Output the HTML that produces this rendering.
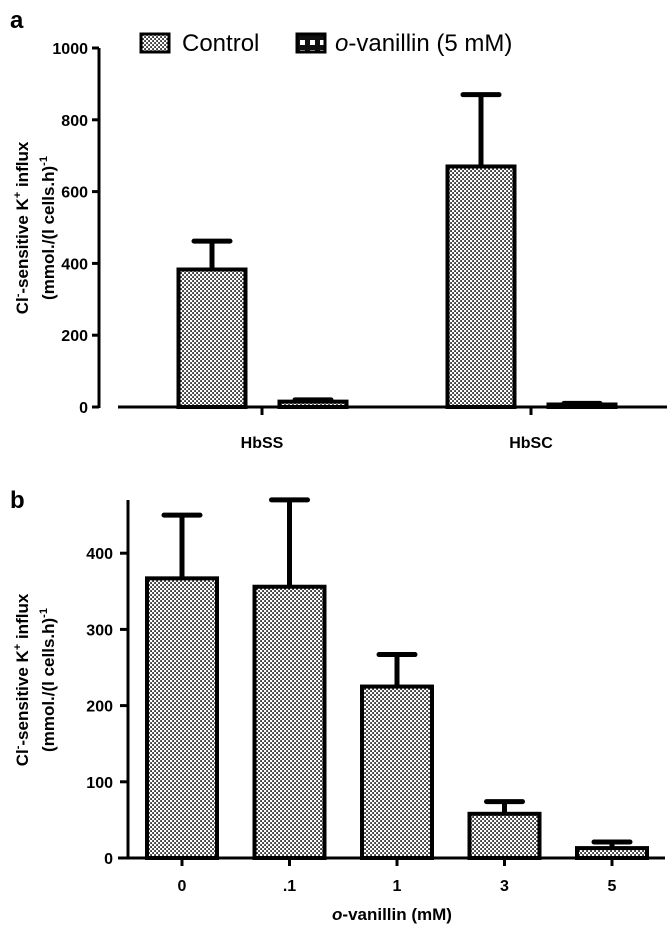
<!DOCTYPE html>
<html><head><meta charset="utf-8"><style>
html,body{margin:0;padding:0;background:#fff}
svg{display:block;font-family:"Liberation Sans",Arial,sans-serif}
</style></head><body>
<svg width="669" height="931" viewBox="0 0 669 931" xmlns="http://www.w3.org/2000/svg">
<defs>
<pattern id="pctl" width="4" height="4" patternUnits="userSpaceOnUse">
<rect width="4" height="4" fill="#fff"/><rect x="0.2" y="0.2" width="1.7" height="1.7" fill="#111"/><rect x="2.2" y="2.2" width="1.7" height="1.7" fill="#111"/>
</pattern>
<pattern id="pvan" width="10" height="10" patternUnits="userSpaceOnUse">
<rect width="10" height="10" fill="#111"/><rect x="0" y="0" width="5" height="5" fill="#fff"/><rect x="5" y="5" width="5" height="5" fill="#111"/>
</pattern>
</defs>
<g id="panelA"></g>
<g id="panelB"></g>
</svg>
<script>
// Panel a data
const aCategories = ["HbSS", "HbSC"];
const aControl = [383, 670];
const aControlErr = [462, 870];
const aVanillin = [15, 7];
const aVanillinErr = [20, 10];
const aTicks = [0, 200, 400, 600, 800, 1000];
// Panel b data
const bCategories = ["0", ".1", "1", "3", "5"];
const bValues = [367, 356, 225, 58, 13];
const bErr = [450, 470, 267, 74, 21];
const bTicks = [0, 100, 200, 300, 400];

const NS = "http://www.w3.org/2000/svg";
function mk(parent, tag, attrs, text) {
  const e = document.createElementNS(NS, tag);
  for (const k in attrs) e.setAttribute(k, attrs[k]);
  if (text !== undefined) e.textContent = text;
  parent.appendChild(e);
  return e;
}

// ---------- Panel a ----------
const A = document.getElementById("panelA");
const aY = v => 407 - v * (359 / 1000);
const aX = i => 262 + i * 269;
let t = mk(A, "text", {x: 10, y: 28, "font-size": 24, "font-weight": "bold"}, "a");


let ax = mk(A, "line", {x1: 99, y1: aY(1000), x2: 99, y2: aY(0) + 1, stroke: "#000", "stroke-width": 3});


ax = mk(A, "line", {x1: 118, y1: 407, x2: 667, y2: 407, stroke: "#000", "stroke-width": 3});


aTicks.forEach(v => {
  const y = aY(v);
  const l = mk(A, "line", {x1: 92, y1: y, x2: 99, y2: y, stroke: "#000", "stroke-width": 3});
  
  
  const tx = mk(A, "text", {x: 88, y: y + 6, "font-size": 16, "font-weight": "bold", "text-anchor": "end"}, v);
  
  
});
function bar(parent, cx, w, v, err, yf, fill, name) {
  const top = yf(v), base = yf(0);
  const et = yf(err);
  const e1 = mk(parent, "line", {x1: cx, y1: top, x2: cx, y2: et, stroke: "#000", "stroke-width": 5});
  
  
  const e2 = mk(parent, "line", {x1: cx - 18, y1: et, x2: cx + 18, y2: et, stroke: "#000", "stroke-width": 5, "stroke-linecap": "round"});
  
  
  const r = mk(parent, "rect", {x: cx - w / 2 + 2, y: top, width: w - 4, height: Math.max(base - top, 1), fill: fill, stroke: "#000", "stroke-width": 4});
  
  
}
aCategories.forEach((c, i) => {
  const x = aX(i);
  const tk = mk(A, "line", {x1: x, y1: 407, x2: x, y2: 415, stroke: "#000", "stroke-width": 3});
  
  
  bar(A, x - 50, 71, aControl[i], aControlErr[i], aY, "url(#pctl)", "bar-control-" + c.toLowerCase());
  bar(A, x + 51, 71, aVanillin[i], aVanillinErr[i], aY, "url(#pctl)", "bar-vanillin-" + c.toLowerCase());
  const tx = mk(A, "text", {x: x, y: 448, "font-size": 16, "font-weight": "bold", "text-anchor": "middle"}, c);
  
  
});
let yt = mk(A, "text", {transform: "translate(28,228) rotate(-90)", "font-size": 17, "font-weight": "bold", "text-anchor": "middle"});


yt.innerHTML = 'Cl<tspan dy="-7" font-size="11">-</tspan><tspan dy="7">-sensitive K</tspan><tspan dy="-7" font-size="11">+</tspan><tspan dy="7"> influx</tspan>';
yt = mk(A, "text", {transform: "translate(54,228) rotate(-90)", "font-size": 17, "font-weight": "bold", "text-anchor": "middle"});


yt.innerHTML = '(mmol./(l cells.h)<tspan dy="-7" font-size="11">-1</tspan>';
// legend
let lg = mk(A, "rect", {x: 141, y: 34, width: 28, height: 18, fill: "url(#pctl)", stroke: "#000", "stroke-width": 3});


lg = mk(A, "text", {x: 182, y: 51, "font-size": 24}, "Control");


lg = mk(A, "rect", {x: 297, y: 34, width: 28, height: 18, fill: "url(#pvan)", stroke: "#000", "stroke-width": 3});


lg = mk(A, "text", {x: 335, y: 51, "font-size": 24});


lg.innerHTML = '<tspan font-style="italic">o</tspan>-vanillin (5 mM)';

// ---------- Panel b ----------
const B = document.getElementById("panelB");
const bY = v => 858 - v * 0.762;
const bX = i => 182 + i * 107.5;
t = mk(B, "text", {x: 10, y: 508, "font-size": 24, "font-weight": "bold"}, "b");


ax = mk(B, "line", {x1: 128, y1: 500, x2: 128, y2: 859, stroke: "#000", "stroke-width": 3});


ax = mk(B, "line", {x1: 118, y1: 858, x2: 665, y2: 858, stroke: "#000", "stroke-width": 3});


bTicks.forEach(v => {
  const y = bY(v);
  const l = mk(B, "line", {x1: 120, y1: y, x2: 128, y2: y, stroke: "#000", "stroke-width": 3});
  
  
  const tx = mk(B, "text", {x: 113, y: y + 6, "font-size": 16, "font-weight": "bold", "text-anchor": "end"}, v);
  
  
});
bCategories.forEach((c, i) => {
  const x = bX(i);
  const tk = mk(B, "line", {x1: x, y1: 858, x2: x, y2: 866, stroke: "#000", "stroke-width": 3});
  
  
  bar(B, x, 74, bValues[i], bErr[i], bY, "url(#pctl)", "bar-dose-" + i);
  const tx = mk(B, "text", {x: x, y: 891, "font-size": 16, "font-weight": "bold", "text-anchor": "middle"}, c);
  
  
});
yt = mk(B, "text", {transform: "translate(28,680) rotate(-90)", "font-size": 17, "font-weight": "bold", "text-anchor": "middle"});


yt.innerHTML = 'Cl<tspan dy="-7" font-size="11">-</tspan><tspan dy="7">-sensitive K</tspan><tspan dy="-7" font-size="11">+</tspan><tspan dy="7"> influx</tspan>';
yt = mk(B, "text", {transform: "translate(54,680) rotate(-90)", "font-size": 17, "font-weight": "bold", "text-anchor": "middle"});


yt.innerHTML = '(mmol./(l cells.h)<tspan dy="-7" font-size="11">-1</tspan>';
let xt = mk(B, "text", {x: 392, y: 920, "font-size": 17, "font-weight": "bold", "text-anchor": "middle"});


xt.innerHTML = '<tspan font-style="italic">o</tspan>-vanillin (mM)';
</script>
</body></html>
